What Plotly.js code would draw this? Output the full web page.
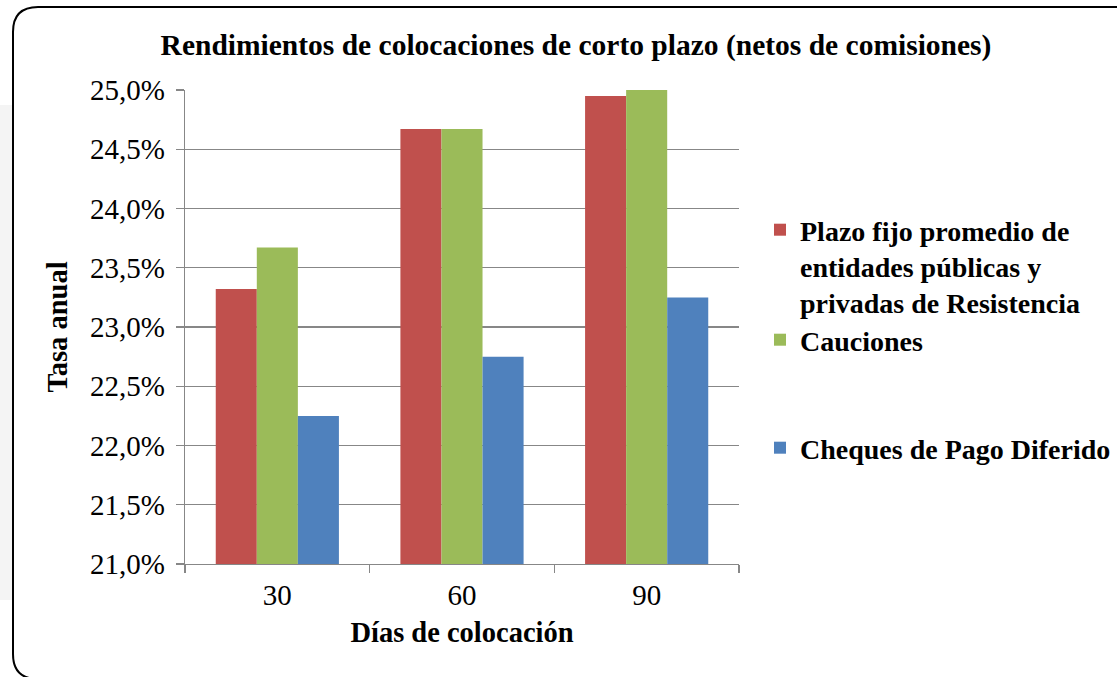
<!DOCTYPE html>
<html><head><meta charset="utf-8">
<script src="https://cdn.plot.ly/plotly-3.0.1.min.js"></script>
<style>html,body{margin:0;padding:0;background:#fff}#chart{width:1117px;height:677px}</style>
</head><body><div id="chart"></div>
<script>
const categories = ['30', '60', '90'];
const plazoFijo = [23.32, 24.67, 24.95];
const cauciones = [23.67, 24.67, 25.0];
const cheques = [22.25, 22.75, 23.25];
const seriesNames = ['Plazo fijo promedio de<br>entidades públicas y<br>privadas de Resistencia', 'Cauciones', 'Cheques de Pago Diferido'];
const yTickVals = [21, 21.5, 22, 22.5, 23, 23.5, 24, 24.5, 25];
const yTickText = ['21,0%', '21,5%', '22,0%', '22,5%', '23,0%', '23,5%', '24,0%', '24,5%', '25,0%'];
const chartTitle = 'Rendimientos de colocaciones de corto plazo (netos de comisiones)';
const xTitle = 'Días de colocación';
const yTitle = 'Tasa anual';

const W = 1117, H = 677, L = 185, R = 739, T = 90, B = 564;
const px = x => (x - L) / (R - L);
const py = y => (B - y) / (B - T);
const FONT = '"Liberation Serif", "Times New Roman", serif';

const colors = ['#C0504D', '#9BBB59', '#4F81BD'];
const values = [plazoFijo, cauciones, cheques];
const legends = ['legend', 'legend2', 'legend3'];
const traces = values.map((v, i) => ({
  type: 'bar', x: categories, y: v, name: seriesNames[i],
  marker: {color: colors[i], line: {width: 0}},
  legend: legends[i], hoverinfo: 'skip'
}));

const legFont = {family: FONT, size: 28, color: '#000', weight: 'bold'};
const mkLeg = (topPx) => ({
  xref: 'container', yref: 'container', x: 760 / W, y: 1 - topPx / H,
  xanchor: 'left', yanchor: 'top', bgcolor: 'rgba(0,0,0,0)', borderwidth: 0,
  font: legFont, valign: 'top', itemclick: false, itemdoubleclick: false, tracegroupgap: 0
});

const r = 25;
const border = `M ${px(13)},${py(7 + r)} Q ${px(13)},${py(7)} ${px(13 + r)},${py(7)} L ${px(1170)},${py(7)} L ${px(1170)},${py(679)} L ${px(13 + r)},${py(679)} Q ${px(13)},${py(679)} ${px(13)},${py(679 - r)} Z`;

const layout = {
  width: W, height: H,
  margin: {l: L, r: W - R, t: T, b: H - B, autoexpand: false},
  paper_bgcolor: '#fff', plot_bgcolor: '#fff',
  showlegend: true,
  barmode: 'group', bargap: 0.333, bargroupgap: 0,
  title: {text: '<b>' + chartTitle + '</b>', font: {family: FONT, size: 29.5, color: '#000'},
          xref: 'container', yref: 'container', x: 576 / W, y: 1 - 45 / H, xanchor: 'center', yanchor: 'middle'},
  xaxis: {
    type: 'category', showline: true, linecolor: '#878787', linewidth: 1.3,
    ticks: 'outside', tickson: 'boundaries', ticklen: 8, tickcolor: '#878787', tickwidth: 1.3,
    tickfont: {family: FONT, size: 29, color: '#000'}, ticklabelstandoff: 5,
    title: {text: '<b>' + xTitle + '</b>', font: {family: FONT, size: 28.5, color: '#000'}, standoff: 12},
    fixedrange: true, automargin: false
  },
  yaxis: {
    range: [21, 25], tickvals: yTickVals, ticktext: yTickText,
    showgrid: true, gridcolor: '#878787', gridwidth: 1.3, zeroline: false,
    showline: true, linecolor: '#878787', linewidth: 1.3,
    ticks: 'outside', ticklen: 8, tickcolor: '#878787', tickwidth: 1.3,
    tickfont: {family: FONT, size: 29, color: '#000'}, ticklabelstandoff: 5,
    title: {text: '<b>' + yTitle + '</b>', font: {family: FONT, size: 28.5, color: '#000'}, standoff: 14},
    fixedrange: true, automargin: false
  },
  legend: mkLeg(205),
  legend2: mkLeg(315),
  legend3: mkLeg(423),
  shapes: [
    {type: 'rect', xref: 'paper', yref: 'paper', x0: px(0), x1: px(12), y0: py(105), y1: py(600),
     fillcolor: '#f4f4f4', line: {width: 0}, layer: 'below'},
    {type: 'path', xref: 'paper', yref: 'paper', path: border, line: {color: '#000', width: 2}, fillcolor: 'rgba(0,0,0,0)', layer: 'above'}
  ]
};

Plotly.newPlot('chart', traces, layout, {staticPlot: true, displayModeBar: false});
</script>
</body></html>
